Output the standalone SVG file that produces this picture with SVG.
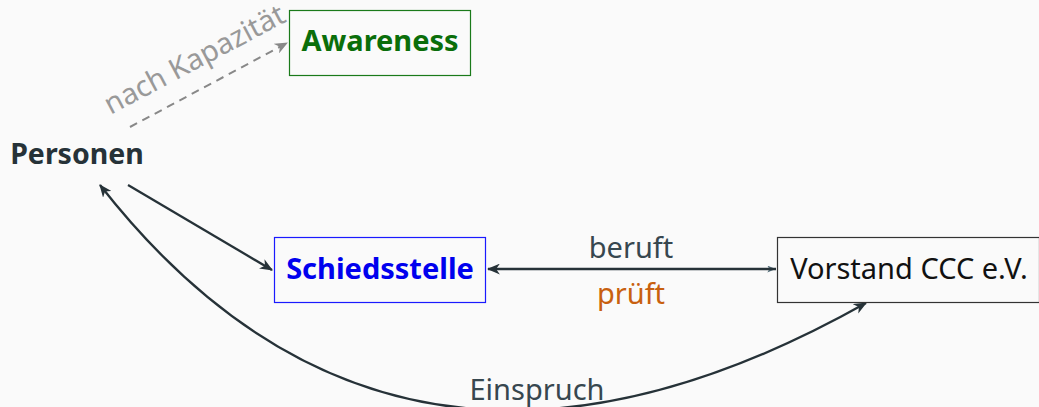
<svg xmlns="http://www.w3.org/2000/svg" width="1039" height="407" viewBox="0 0 1039 407">
<style>
text{font-family:"Noto Sans","Open Sans","DejaVu Sans",sans-serif;font-size:29px}
.b{font-weight:bold}
.e{fill:none;stroke:#263238;stroke-width:2.3}
</style>
<defs>
<marker id="ad" viewBox="0 0 12 10" refX="11" refY="5" markerWidth="13" markerHeight="11" markerUnits="userSpaceOnUse" orient="auto-start-reverse">
<path d="M0,0 L12,5 L0,10 L3.5,5 z" fill="#263238"/>
</marker>
<marker id="ag" viewBox="0 0 12 10" refX="11" refY="5" markerWidth="13" markerHeight="11" markerUnits="userSpaceOnUse" orient="auto">
<path d="M0,0 L12,5 L0,10 L3.5,5 z" fill="#888"/>
</marker>
<marker id="as" viewBox="0 0 12 10" refX="11" refY="5" markerWidth="9" markerHeight="7" markerUnits="userSpaceOnUse" orient="auto">
<path d="M0,0 L12,5 L0,10 L3,5 z" fill="#546e7a"/>
</marker>
</defs>
<rect width="1039" height="407" fill="#fafafa"/>
<g id="connectors">
<path d="M130,127 L287,43" fill="none" stroke="#888" stroke-width="2" stroke-dasharray="8,6" marker-end="url(#ag)"/>
<text x="199" y="68" text-anchor="middle" fill="#999" transform="rotate(-28 199 68)">nach Kapazität</text>
<path class="e" d="M128,185 L272,270" marker-end="url(#ad)"/>
<path d="M488,269 L775,269" fill="none" stroke="#546e7a" stroke-width="1.5" marker-end="url(#as)"/>
<path class="e" d="M776,269 L488,269" marker-end="url(#ad)"/>
<text x="631" y="258" text-anchor="middle" fill="#37474f">beruft</text>
<text x="631" y="304" text-anchor="middle" fill="#c8600f">prüft</text>
<path class="e" d="M866,303 Q398,566 100,185" marker-start="url(#ad)" marker-end="url(#ad)"/>
<text x="537" y="400" text-anchor="middle" fill="#37474f">Einspruch</text>
</g>
<g id="awareness">
<rect x="289.5" y="10.5" width="181" height="65" fill="#fafafa" stroke="#1a7a1a" stroke-width="1.2"/>
<text class="b" x="380" y="51" text-anchor="middle" fill="#0a6e0a">Awareness</text>
</g>
<g id="personen">
<text class="b" x="77" y="164" text-anchor="middle" fill="#263238" style="font-size:28.5px">Personen</text>
</g>
<g id="schiedsstelle">
<rect x="274.5" y="237.5" width="211" height="65" fill="#fafafa" stroke="#1a1aff" stroke-width="1.2"/>
<text class="b" x="380" y="279" text-anchor="middle" fill="#0000ee">Schiedsstelle</text>
</g>
<g id="vorstand">
<rect x="777.5" y="237.5" width="262" height="65" fill="#fafafa" stroke="#333" stroke-width="1.2"/>
<text x="909" y="279" text-anchor="middle" fill="#111">Vorstand CCC e.V.</text>
</g>
</svg>
